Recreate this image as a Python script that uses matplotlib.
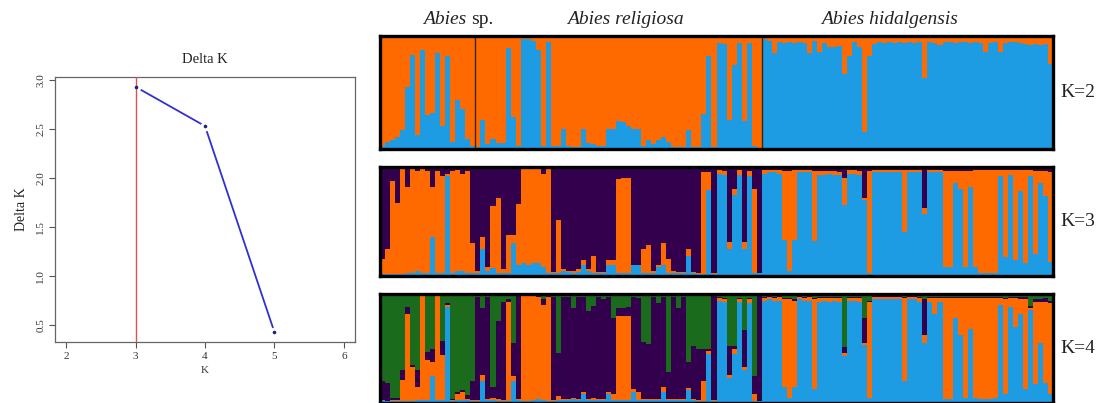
import numpy as np
import matplotlib.pyplot as plt

plt.rcParams['font.family'] = ['Liberation Serif', 'DejaVu Serif']

# ---- Delta K (Evanno) ----
k_values = [3, 4, 5]
delta_k = [2.93, 2.53, 0.43]
best_k = 3

# ---- STRUCTURE membership (one value per individual) ----
groups = ['Abies sp.', 'Abies religiosa', 'Abies hidalgensis']
group_sizes = [19, 57, 58]

# K=2 : blue share, orange is the rest
k2_blue = [
    0.03, 0.06, 0.08, 0.11, 0.17, 0.55, 0.83, 0.12, 0.88, 0.30, 0.32, 0.85, 0.20, 0.82, 0.06, 0.43, 0.35, 0.09, 0.03,
    0.02, 0.26, 0.04, 0.09, 0.05, 0.05, 0.89, 0.28, 0.03, 0.97,
    0.97, 0.96, 0.88, 0.03, 0.95, 0.03, 0.03, 0.18, 0.03, 0.02,
    0.02, 0.18, 0.05, 0.04, 0.03, 0.03, 0.18, 0.18, 0.25, 0.24,
    0.20, 0.18, 0.18, 0.03, 0.08, 0.04, 0.08, 0.11, 0.06, 0.02,
    0.02, 0.02, 0.17, 0.02, 0.02, 0.31, 0.82, 0.02, 0.94, 0.93,
    0.26, 0.74, 0.94, 0.25, 0.94, 0.03, 0.00,
    0.97, 0.96, 0.85, 0.95, 0.94, 0.95, 0.94, 0.95, 0.94, 0.85,
    0.96, 0.86, 0.94, 0.90, 0.90, 0.91, 0.66, 0.82, 0.95, 0.90,
    0.15, 0.82, 0.93, 0.95, 0.94, 0.95, 0.94, 0.95, 0.94, 0.95,
    0.94, 0.95, 0.63, 0.95, 0.94, 0.92, 0.95, 0.95, 0.94, 0.95,
    0.95, 0.94, 0.95, 0.94, 0.86, 0.94, 0.95, 0.86, 0.94, 0.95,
    0.95, 0.94, 0.93, 0.92, 0.93, 0.92, 0.93, 0.75,
]

# K=3 : blue, orange, purple is the rest
k3_blue = [
    0.02, 0.02, 0.02, 0.02, 0.02, 0.03, 0.03, 0.05, 0.03, 0.03, 0.36, 0.03, 0.03, 0.92, 0.03, 0.05, 0.05, 0.03, 0.03,
    0.03, 0.25, 0.05, 0.07, 0.03, 0.03, 0.03, 0.30, 0.10, 0.12,
    0.10, 0.12, 0.12, 0.08, 0.03, 0.03, 0.03, 0.05, 0.04, 0.03,
    0.04, 0.10, 0.05, 0.03, 0.03, 0.03, 0.10, 0.10, 0.03, 0.03,
    0.03, 0.10, 0.10, 0.03, 0.03, 0.03, 0.08, 0.10, 0.03, 0.03,
    0.03, 0.03, 0.18, 0.03, 0.02, 0.02, 0.79, 0.02, 0.94, 0.93,
    0.25, 0.74, 0.93, 0.25, 0.92, 0.03, 0.03,
    0.94, 0.95, 0.95, 0.94, 0.33, 0.05, 0.33, 0.95, 0.95, 0.95,
    0.32, 0.93, 0.93, 0.94, 0.93, 0.93, 0.65, 0.94, 0.94, 0.93,
    0.70, 0.03, 0.95, 0.95, 0.95, 0.95, 0.95, 0.95, 0.40, 0.95,
    0.95, 0.95, 0.57, 0.95, 0.95, 0.95, 0.08, 0.08, 0.85, 0.80,
    0.08, 0.82, 0.08, 0.03, 0.03, 0.03, 0.03, 0.92, 0.17, 0.93,
    0.15, 0.78, 0.12, 0.92, 0.20, 0.85, 0.73, 0.13,
]
k3_orange = [
    0.14, 0.23, 0.85, 0.65, 0.96, 0.79, 0.95, 0.91, 0.95, 0.93, 0.46, 0.93, 0.89, 0.02, 0.93, 0.92, 0.89, 0.93, 0.27,
    0.02, 0.11, 0.03, 0.57, 0.69, 0.03, 0.35, 0.08, 0.56, 0.86,
    0.88, 0.86, 0.86, 0.86, 0.95, 0.01, 0.48, 0.01, 0.01, 0.02,
    0.02, 0.05, 0.01, 0.15, 0.01, 0.01, 0.05, 0.05, 0.86, 0.87,
    0.87, 0.00, 0.00, 0.22, 0.25, 0.02, 0.02, 0.20, 0.13, 0.02,
    0.01, 0.01, 0.07, 0.01, 0.01, 0.93, 0.16, 0.01, 0.03, 0.03,
    0.06, 0.06, 0.04, 0.06, 0.04, 0.77, 0.00,
    0.03, 0.02, 0.02, 0.03, 0.63, 0.91, 0.64, 0.02, 0.02, 0.02,
    0.64, 0.03, 0.03, 0.02, 0.03, 0.02, 0.25, 0.03, 0.03, 0.03,
    0.02, 0.93, 0.02, 0.02, 0.02, 0.02, 0.02, 0.02, 0.57, 0.02,
    0.02, 0.02, 0.05, 0.02, 0.02, 0.02, 0.88, 0.88, 0.11, 0.16,
    0.88, 0.14, 0.89, 0.94, 0.94, 0.94, 0.94, 0.05, 0.80, 0.04,
    0.82, 0.19, 0.85, 0.05, 0.76, 0.11, 0.23, 0.82,
]

# K=4 : blue, orange, purple, green is the rest
k4_blue = [
    0.03, 0.02, 0.02, 0.02, 0.02, 0.02, 0.02, 0.03, 0.03, 0.03, 0.25, 0.03, 0.03, 0.88, 0.02, 0.03, 0.03, 0.03, 0.02,
    0.02, 0.20, 0.03, 0.03, 0.02, 0.02, 0.02, 0.20, 0.03, 0.02,
    0.02, 0.03, 0.04, 0.03, 0.02, 0.02, 0.03, 0.03, 0.03, 0.04,
    0.03, 0.08, 0.03, 0.03, 0.03, 0.03, 0.08, 0.03, 0.03, 0.03,
    0.03, 0.10, 0.03, 0.03, 0.03, 0.03, 0.03, 0.10, 0.03, 0.03,
    0.03, 0.03, 0.12, 0.03, 0.02, 0.02, 0.45, 0.02, 0.94, 0.93,
    0.23, 0.45, 0.93, 0.30, 0.92, 0.02, 0.02,
    0.94, 0.95, 0.94, 0.94, 0.15, 0.05, 0.15, 0.95, 0.94, 0.94,
    0.13, 0.93, 0.94, 0.93, 0.94, 0.93, 0.43, 0.94, 0.94, 0.93,
    0.53, 0.05, 0.95, 0.95, 0.95, 0.95, 0.95, 0.95, 0.20, 0.95,
    0.95, 0.93, 0.55, 0.93, 0.82, 0.93, 0.04, 0.04, 0.78, 0.62,
    0.05, 0.68, 0.05, 0.04, 0.04, 0.04, 0.05, 0.90, 0.08, 0.88,
    0.70, 0.82, 0.13, 0.85, 0.17, 0.55, 0.18, 0.08,
]
k4_orange = [
    0.00, 0.00, 0.01, 0.01, 0.19, 0.80, 0.31, 0.12, 0.95, 0.36, 0.13, 0.95, 0.41, 0.02, 0.01, 0.05, 0.07, 0.01, 0.01,
    0.01, 0.06, 0.01, 0.02, 0.02, 0.01, 0.91, 0.05, 0.01, 0.96,
    0.96, 0.95, 0.93, 0.87, 0.95, 0.01, 0.03, 0.01, 0.01, 0.01,
    0.01, 0.02, 0.01, 0.02, 0.01, 0.01, 0.02, 0.05, 0.77, 0.77,
    0.77, 0.03, 0.07, 0.01, 0.01, 0.01, 0.01, 0.05, 0.01, 0.01,
    0.01, 0.01, 0.02, 0.01, 0.01, 0.18, 0.03, 0.01, 0.02, 0.02,
    0.03, 0.05, 0.02, 0.03, 0.03, 0.06, 0.00,
    0.02, 0.02, 0.02, 0.03, 0.80, 0.90, 0.79, 0.02, 0.02, 0.03,
    0.82, 0.03, 0.02, 0.03, 0.02, 0.03, 0.03, 0.02, 0.02, 0.03,
    0.02, 0.88, 0.02, 0.02, 0.02, 0.02, 0.02, 0.02, 0.76, 0.02,
    0.02, 0.03, 0.07, 0.03, 0.14, 0.03, 0.92, 0.92, 0.18, 0.34,
    0.91, 0.28, 0.91, 0.92, 0.92, 0.92, 0.91, 0.06, 0.87, 0.08,
    0.26, 0.13, 0.82, 0.02, 0.76, 0.38, 0.75, 0.84,
]
k4_purple = [
    0.17, 0.16, 0.02, 0.02, 0.09, 0.06, 0.02, 0.15, 0.01, 0.08, 0.12, 0.01, 0.13, 0.02, 0.01, 0.02, 0.02, 0.03, 0.17,
    0.94, 0.61, 0.93, 0.10, 0.71, 0.90, 0.02, 0.30, 0.94, 0.01,
    0.01, 0.01, 0.01, 0.05, 0.01, 0.94, 0.40, 0.93, 0.93, 0.82,
    0.93, 0.87, 0.80, 0.84, 0.93, 0.91, 0.87, 0.70, 0.07, 0.07,
    0.08, 0.84, 0.86, 0.52, 0.50, 0.93, 0.88, 0.82, 0.24, 0.93,
    0.83, 0.93, 0.24, 0.48, 0.47, 0.30, 0.02, 0.95, 0.01, 0.01,
    0.26, 0.02, 0.01, 0.34, 0.01, 0.17, 0.97,
    0.01, 0.01, 0.01, 0.01, 0.01, 0.01, 0.01, 0.01, 0.01, 0.01,
    0.01, 0.01, 0.01, 0.01, 0.01, 0.01, 0.05, 0.01, 0.01, 0.01,
    0.23, 0.01, 0.01, 0.01, 0.01, 0.01, 0.01, 0.01, 0.01, 0.01,
    0.01, 0.01, 0.33, 0.01, 0.01, 0.01, 0.01, 0.01, 0.01, 0.01,
    0.01, 0.01, 0.01, 0.01, 0.01, 0.01, 0.01, 0.01, 0.01, 0.01,
    0.01, 0.02, 0.02, 0.02, 0.02, 0.02, 0.03, 0.02,
]

ORANGE = '#ff6a00'
BLUE = '#1d9be3'
PURPLE = '#33004d'
GREEN = '#1b6b1c'


def structure_panel(ax, layers, colors):
    """stack the membership layers from the bottom, last colour fills to 1"""
    n = len(layers[0])
    edges = np.arange(n + 1)
    base = np.zeros(n)
    for vals, col in zip(layers, colors[:-1]):
        top = base + np.array(vals)
        ax.stairs(top, edges, baseline=base, fill=True, color=col, lw=0)
        base = top
    ax.stairs(np.ones(n), edges, baseline=base, fill=True, color=colors[-1], lw=0)
    ax.set_facecolor(colors[-1])
    ax.set_xlim(0, n)
    ax.set_ylim(0, 1)
    ax.set_xticks([])
    ax.set_yticks([])
    for s in ax.spines.values():
        s.set_linewidth(2.4)
        s.set_color('black')


W, H = 1099, 403
fig = plt.figure(figsize=(W / 100, H / 100), dpi=100)

# Delta K plot (R style, type = "b")
ax = fig.add_axes([55 / W, 1 - 342 / H, 300 / W, 265 / H])
ax.plot(k_values, delta_k, color='#3030d0', lw=1.3, zorder=2)
ax.plot(k_values, delta_k, 'o', ms=7, mfc='white', mec='none', zorder=3)   # gaps round points
ax.plot(k_values, delta_k, 'o', ms=2.6, mfc='#202080', mec='none', zorder=5)
ax.axvline(best_k, color='#e05050', lw=1.0, zorder=4)
ax.set_xlim(1.84, 6.16)
ax.set_ylim(0.33, 3.03)
ax.set_xticks([2, 3, 4, 5, 6])
ax.set_yticks([0.5, 1.0, 1.5, 2.0, 2.5, 3.0])
ax.set_yticklabels(['0.5', '1.0', '1.5', '2.0', '2.5', '3.0'], rotation=90, va='center')
ax.tick_params(labelsize=8, length=4, color='#555555', labelcolor='#333333', pad=3)
for s in ax.spines.values():
    s.set_color('#666666')
    s.set_linewidth(0.9)
ax.set_title('Delta K', fontsize=10.5, pad=10, color='#222222')
ax.set_xlabel('K', fontsize=8, labelpad=4, color='#333333')
ax.set_ylabel('Delta K', fontsize=10, labelpad=6, color='#222222')

# STRUCTURE bar plots
n_ind = sum(group_sizes)
k2_orange = [1 - b for b in k2_blue]
panels = [
    ('K=2', 36, 149, [k2_blue], [BLUE, ORANGE]),
    ('K=3', 167, 276, [k3_blue, k3_orange], [BLUE, ORANGE, PURPLE]),
    ('K=4', 294, 403, [k4_blue, k4_orange, k4_purple], [BLUE, ORANGE, PURPLE, GREEN]),
]
for label, top, bottom, layers, colors in panels:
    a = fig.add_axes([380 / W, 1 - bottom / H, 673 / W, (bottom - top) / H])
    structure_panel(a, layers, colors)
    if label == 'K=2':
        for b in np.cumsum(group_sizes)[:-1]:
            a.axvline(b, color='#3a2418', lw=1.0)
    fig.text(1060 / W, 1 - (top + bottom) / 2 / H, label, fontsize=14,
             ha='left', va='center', color='#222222')

# group headers
hy = 1 - 20 / H
fig.text(466 / W, hy, 'Abies', fontsize=14, style='italic', ha='right', va='center', color='#222222')
fig.text(471 / W, hy, 'sp.', fontsize=14, ha='left', va='center', color='#222222')
fig.text(625 / W, hy, 'Abies religiosa', fontsize=14, style='italic', ha='center', va='center', color='#222222')
fig.text(889 / W, hy, 'Abies hidalgensis', fontsize=14, style='italic', ha='center', va='center', color='#222222')

fig.savefig('out.png', dpi=100)
